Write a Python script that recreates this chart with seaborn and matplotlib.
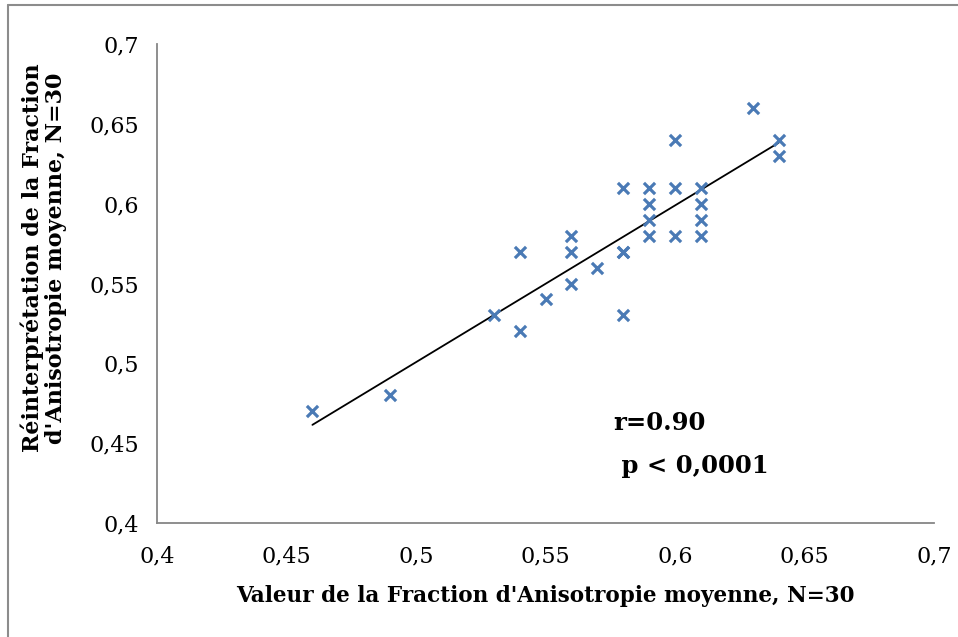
import matplotlib
matplotlib.use("Agg")
import matplotlib.pyplot as plt
import seaborn as sns
import pandas as pd
from matplotlib.lines import Line2D

# Data
fa_moyenne = [0.46, 0.49, 0.53, 0.54, 0.54, 0.55, 0.56, 0.56, 0.56, 0.57,
              0.58, 0.58, 0.58, 0.58, 0.59, 0.59, 0.59, 0.59, 0.60, 0.60,
              0.60, 0.61, 0.61, 0.61, 0.61, 0.63, 0.64, 0.64]
fa_reinterp = [0.47, 0.48, 0.53, 0.52, 0.57, 0.54, 0.55, 0.57, 0.58, 0.56,
               0.53, 0.57, 0.57, 0.61, 0.58, 0.59, 0.60, 0.61, 0.58, 0.61,
               0.64, 0.58, 0.59, 0.60, 0.61, 0.66, 0.63, 0.64]
tick_values = [0.4, 0.45, 0.5, 0.55, 0.6, 0.65, 0.7]
tick_labels = ["0,4", "0,45", "0,5", "0,55", "0,6", "0,65", "0,7"]
x_label = "Valeur de la Fraction d'Anisotropie moyenne, N=30"
y_label = "Réinterprétation de la Fraction\nd'Anisotropie moyenne, N=30"
stat_r = "r=0.90"
stat_p = " p < 0,0001"

df = pd.DataFrame({"x": fa_moyenne, "y": fa_reinterp})

sns.set_theme(style="white")
plt.rcParams["font.family"] = ["DejaVu Serif"]
plt.rcParams["text.color"] = "black"
plt.rcParams["axes.labelcolor"] = "black"
plt.rcParams["xtick.color"] = "black"
plt.rcParams["ytick.color"] = "black"

fig = plt.figure(figsize=(9.58, 6.37), dpi=100)
ax = fig.add_axes([157/958, 1 - 523/637, (934 - 157)/958, (523 - 44)/637])

sns.regplot(data=df, x="x", y="y", ax=ax, ci=None, truncate=True,
            marker="x",
            scatter_kws=dict(s=65, color="#4A7AB5", linewidths=2.3, alpha=1, zorder=3),
            line_kws=dict(color="black", linewidth=1.3, zorder=2))

ax.set_xlim(0.4, 0.7)
ax.set_ylim(0.4, 0.7)
ax.set_xticks(tick_values)
ax.set_xticklabels(tick_labels)
ax.set_yticks(tick_values)
ax.set_yticklabels(tick_labels)
ax.tick_params(axis="both", direction="out", length=6, width=1.2,
               color="#868686", labelsize=16, pad=7, labelcolor="black")
ax.tick_params(axis="x", pad=10)
for s in ["top", "right"]:
    ax.spines[s].set_visible(False)
for s in ["left", "bottom"]:
    ax.spines[s].set_color("#868686")
    ax.spines[s].set_linewidth(1.3)

ax.set_xlabel(x_label, fontsize=15.5, fontweight="bold", labelpad=13, color="black")
ax.set_ylabel(y_label, fontsize=16, fontweight="bold",
              linespacing=1.05, color="black")
ax.yaxis.set_label_coords((67 - 157) / 777, (523 - 258) / 479)

ax.text(0.576, 0.4626, stat_r, fontsize=17.5, fontweight="bold",
        ha="left", va="center", color="black")
ax.text(0.576, 0.4357, stat_p, fontsize=17.5, fontweight="bold",
        ha="left", va="center", color="black")

# outer chart border (left and top visible)
fig.add_artist(Line2D([8/958, 8/958], [0, 1 - 5/637], transform=fig.transFigure,
                      color="#8c8c8c", linewidth=1.5))
fig.add_artist(Line2D([8/958, 1], [1 - 5/637, 1 - 5/637], transform=fig.transFigure,
                      color="#8c8c8c", linewidth=1.5))

fig.savefig("out.png", dpi=100)
